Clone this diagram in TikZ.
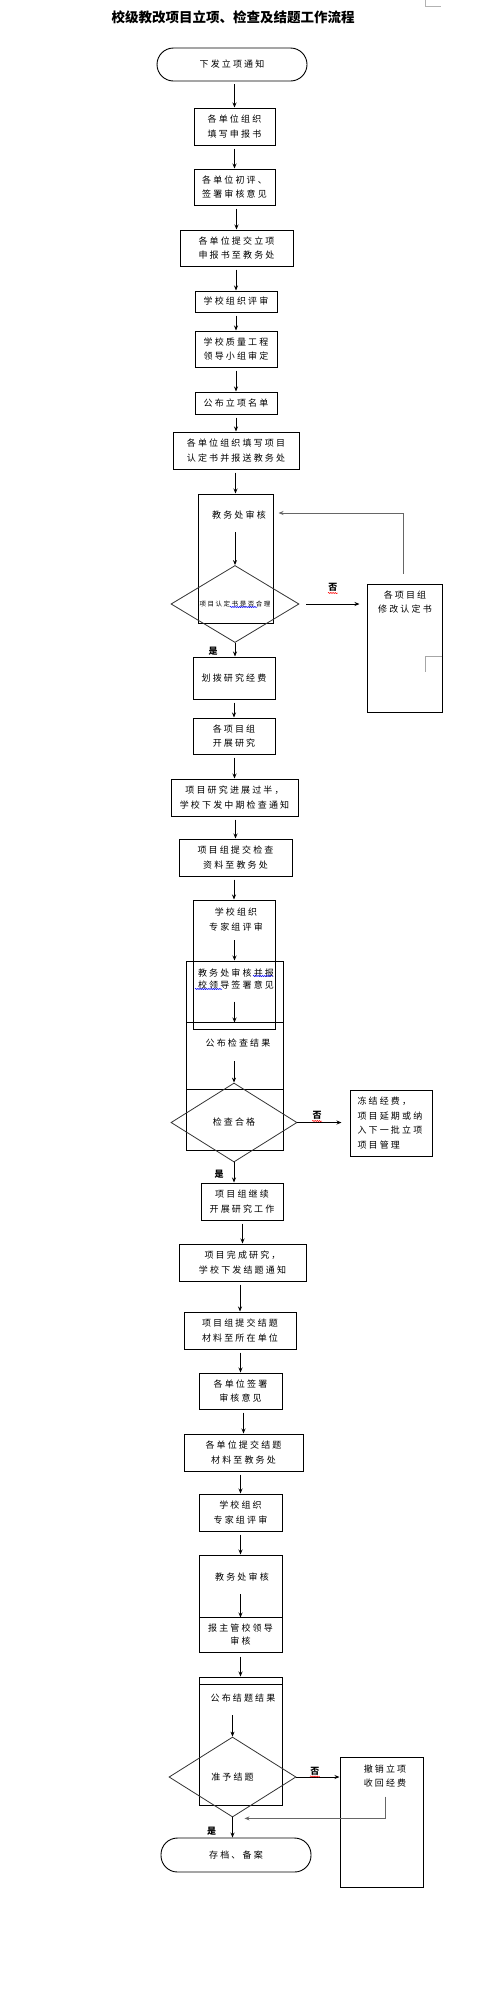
\documentclass[tikz,border=0pt]{standalone}
\usepackage{fontspec}
\newfontfamily\cjk[LetterSpace=24]{Noto Sans CJK SC}
\newfontfamily\cjkhead{Noto Sans CJK SC}
\usetikzlibrary{arrows.meta, calc, positioning, shapes.geometric, decorations.pathmorphing}

\tikzset{
  box/.style={draw, line width=1pt, inner sep=0pt, align=center, text=black, font=\cjk\fontsize{9}{14.5}\selectfont},
  term/.style={box, line width=0.9pt, rounded corners=16.5pt},
  txt/.style={inner sep=0pt, align=center, text=black, font=\cjk\fontsize{9}{14.5}\selectfont},
  dec/.style={diamond, draw=black!80, line width=0.8pt, inner sep=0pt, align=center, text=black, font=\cjk\fontsize{9}{14.5}\selectfont},
  head/.style={inner sep=0pt, font=\cjkhead\bfseries\fontsize{13.5}{16}\selectfont},
  yn/.style={inner sep=0pt, font=\cjkhead\bfseries\fontsize{9}{9}\selectfont},
  arr/.style={-{Stealth[length=5pt,width=4pt]}, line width=0.9pt},
  back/.style={arr, draw=black!60},
  spell/.style={decorate, decoration={snake, amplitude=0.6pt, segment length=2.2pt}, line width=0.5pt},
}

\begin{document}
\begin{tikzpicture}[x=1pt, y=-1pt]
    \useasboundingbox (0,0) rectangle (500,2000);
    \node[head] (title) at (233,17) {校级教改项目立项、检查及结题工作流程};
    \draw[gray!60, line width=0.8pt] (425,0) -- (425,6) -- (441,6);

    \node[term, minimum width=150, minimum height=33] (notice) at (232,64.5) {下发立项通知};
    \node[box, minimum width=81, minimum height=37] (fill) at (234.5,126.5) {各单位组织\\填写申报书};
    \node[box, minimum width=81, minimum height=36] (prelim) at (234.5,187) {各单位初评、\\签署审核意见};
    \node[box, minimum width=113, minimum height=36] (submit) at (236.5,248) {各单位提交立项\\申报书至教务处};
    \node[box, minimum width=82, minimum height=21] (review) at (236,301.5) {学校组织评审};
    \node[box, minimum width=82, minimum height=36] (approve) at (236,349) {学校质量工程\\领导小组审定};
    \node[box, minimum width=82, minimum height=22] (publish) at (236,403) {公布立项名单};
    \node[box, minimum width=126, minimum height=37] (confirm) at (236,450.5) {各单位组织填写项目\\认定书并报送教务处};

    \node[box, minimum width=75, minimum height=129] (audit) at (235.5,558.5) {};
    \node[txt] (auditt) at (239,515) {教务处审核};
    \node[dec, minimum width=128, minimum height=60, font=\cjk\fontsize{6.5}{8}\selectfont] (dq1) at (235,604) {项目认定书是否合理};
    \node[box, minimum width=75, minimum height=128] (revise) at (404.5,648) {};
    \node[txt] (reviset) at (405,602) {各项目组\\修改认定书};
    \draw[gray!70, line width=0.8pt] (442,656) -- (425,656) -- (425,672);

    \node[box, minimum width=82, minimum height=42] (fund) at (234,678) {划拨研究经费};
    \node[box, minimum width=82, minimum height=36] (research) at (234,736) {各项目组\\开展研究};
    \node[box, minimum width=127, minimum height=37] (midnote) at (234.5,797.5) {项目研究进展过半，\\学校下发中期检查通知};
    \node[box, minimum width=113, minimum height=37] (midsub) at (235.5,857.5) {项目组提交检查\\资料至教务处};
    \node[box, minimum width=82, minimum height=129] (midexp) at (234,964.5) {};
    \node[txt] (midexpt) at (236,919.5) {学校组织\\专家组评审};
    \node[box, minimum width=97, minimum height=61] (midaud) at (234.5,991.5) {};
    \node[txt, font=\cjk\fontsize{9}{12.3}\selectfont] (midaudt) at (236,979) {教务处审核并报\\校领导签署意见};
    \node[box, minimum width=97, minimum height=67] (midpub) at (234.5,1055.5) {};
    \node[txt] (midpubt) at (238,1043) {公布检查结果};
    \node[box, minimum width=97, minimum height=61] (midbox) at (234.5,1119.5) {};
    \node[dec, minimum width=126, minimum height=79] (dq2) at (234,1122.5) {检查合格};
    \node[box, minimum width=82, minimum height=66, text width=67, align=left] (freeze) at (391,1123) {冻结经费，\\项目延期或纳\\入下一批立项\\项目管理};

    \node[box, minimum width=82, minimum height=37] (cont) at (242,1201.5) {项目组继续\\开展研究工作};
    \node[box, minimum width=127, minimum height=37] (finish) at (242.5,1262.5) {项目完成研究，\\学校下发结题通知};
    \node[box, minimum width=112, minimum height=37] (finsub) at (240,1330.5) {项目组提交结题\\材料至所在单位};
    \node[box, minimum width=83, minimum height=36] (unitsign) at (240.5,1391) {各单位签署\\审核意见};
    \node[box, minimum width=119, minimum height=37] (finsub2) at (243.5,1452.5) {各单位提交结题\\材料至教务处};
    \node[box, minimum width=83, minimum height=37] (finexp) at (240.5,1512.5) {学校组织\\专家组评审};
    \node[box, minimum width=83, minimum height=62] (finaud) at (240.5,1586) {};
    \node[txt] (finaudt) at (242,1577) {教务处审核};
    \node[box, minimum width=83, minimum height=35, font=\cjk\fontsize{9}{13}\selectfont] (leader) at (240.5,1634.5) {报主管校领导\\审核};
    \node[box, minimum width=83, minimum height=7] (gap) at (240.5,1680.5) {};
    \node[box, minimum width=83, minimum height=121] (finpub) at (240.5,1744.5) {};
    \node[txt] (finpubt) at (243,1698) {公布结题结果};
    \node[dec, minimum width=127, minimum height=80] (dq3) at (232.5,1777) {准予结题};
    \node[box, minimum width=83, minimum height=130] (revoke) at (381.5,1822) {};
    \node[txt] (revoket) at (385,1776) {撤销立项\\收回经费};
    \node[term, minimum width=150, minimum height=34] (archive) at (236,1855) {存档、备案};

    \foreach \a/\b in {notice/fill, fill/prelim, prelim/submit, submit/review, review/approve, approve/publish, publish/confirm, confirm/audit, fund/research, research/midnote, midnote/midsub, midsub/midexp, cont/finish, finish/finsub, finsub/unitsign, unitsign/finsub2, finsub2/finexp, finexp/finaud}
        \draw[arr, shorten <=3pt] (\a.south -| \b.north) -- (\b.north);

    \draw[arr] ($(auditt.south -| dq1.north)+(0,13)$) -- (dq1.north);
    \draw[arr] (dq1.south) -- (dq1.south |- fund.north) node[yn, pos=0.6, left=17pt] (yes1) {是};
    \draw[arr, shorten <=7pt, shorten >=7pt] (dq1.east) -- (dq1.east -| revise.west) node[yn, midway, above=12pt] (no1) {否};
    \draw[back] ($(revise.north)+(-1.5,-10)$) |- ($(audit.east |- auditt)+(5,-2)$);

    \draw[arr] ($(midexpt.south -| midaud.north)+(0,9)$) -- (midaud.north);
    \draw[arr] ($(midaudt.south -| midaud.south)+(0,12)$) -- (midaud.south);
    \draw[arr] ($(midpubt.south -| dq2.north)+(0,14)$) -- (dq2.north);
    \draw[arr, shorten >=8pt] (dq2.east) -- (dq2.east -| freeze.west) node[yn, pos=0.38, above=2.5pt] (no2) {否};
    \draw[arr] (dq2.south) -- (dq2.south |- cont.north) node[yn, pos=0.6, left=10pt] (yes2) {是};

    \draw[arr] ($(finaudt.south -| finaud.south)+(0,13)$) -- (finaud.south);
    \draw[arr, shorten <=4pt] (leader.south) -- (gap.north);
    \draw[arr] ($(finpubt.south -| dq3.north)+(0,13)$) -- (dq3.north);
    \draw[arr] (dq3.east) -- (dq3.east -| revoke.west) node[yn, pos=0.43, above=1.5pt] (no3) {否};
    \draw[back] ($(revoket.south)+(0,9)$) |- ($(dq3.south)+(12,1)$);
    \draw[arr] (dq3.south) -- (dq3.south |- archive.north) node[yn, pos=0.7, left=16pt] (yes3) {是};

    \foreach \n in {no1, no2, no3}
        \draw[red, spell] ([yshift=-1pt]\n.south west) -- ([yshift=-1pt]\n.south east);
    \draw[blue, spell] (230,607) -- (257,607);
    \draw[blue, spell] (253,976) -- (273,976);
    \draw[blue, spell] (195,989) -- (222,989);
\end{tikzpicture}
\end{document}
